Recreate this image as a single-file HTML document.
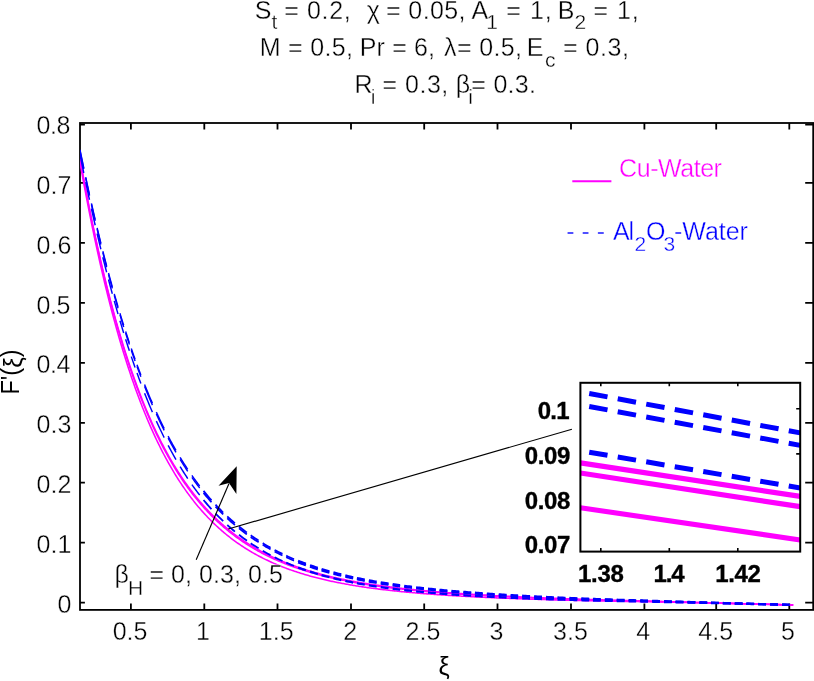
<!DOCTYPE html>
<html><head><meta charset="utf-8"><style>
html,body{margin:0;padding:0;background:#fff;width:814px;height:681px;overflow:hidden}
svg{display:block;will-change:transform}
</style></head><body>
<svg width="814" height="681" viewBox="0 0 814 681" font-family="Liberation Sans, sans-serif">
<rect width="814" height="681" fill="#fff"/>
<defs><clipPath id="cm"><rect x="80" y="123" width="733.2" height="486.9"/></clipPath><clipPath id="ci"><rect x="580.4" y="382.8" width="219.8" height="168.8"/></clipPath></defs>
<g stroke="#000" stroke-width="1.8" fill="none">
<rect x="80" y="123" width="733.2" height="486.9"/>
<path d="M130.9,609.9 v-6.4 M130.9,123 v6.6 M204.3,609.9 v-6.4 M204.3,123 v6.6 M277.5,609.9 v-6.4 M277.5,123 v6.6 M351.0,609.9 v-6.4 M351.0,123 v6.6 M424.2,609.9 v-6.4 M424.2,123 v6.6 M497.5,609.9 v-6.4 M497.5,123 v6.6 M571.0,609.9 v-6.4 M571.0,123 v6.6 M644.4,609.9 v-6.4 M644.4,123 v6.6 M716.2,609.9 v-6.4 M716.2,123 v6.6 M789.3,609.9 v-6.4 M789.3,123 v6.6 M80,602.6 h4.9 M813.2,602.6 h-8.0 M80,542.6 h4.9 M813.2,542.6 h-8.0 M80,482.7 h4.9 M813.2,482.7 h-8.0 M80,422.8 h4.9 M813.2,422.8 h-8.0 M80,362.8 h4.9 M813.2,362.8 h-8.0 M80,302.9 h4.9 M813.2,302.9 h-8.0 M80,242.9 h4.9 M813.2,242.9 h-8.0 M80,182.9 h4.9 M813.2,182.9 h-8.0 M80,124.6 h4.9 M813.2,124.6 h-8.0"/>
</g>
<g clip-path="url(#cm)" fill="none">
<path d="M79.08,153.04 L80.10,158.83 L81.12,164.54 L82.14,170.16 L83.16,175.72 L84.18,181.20 L85.20,186.61 L86.22,191.95 L87.24,197.22 L88.26,202.42 L89.28,207.56 L90.30,212.63 L91.32,217.63 L92.34,222.57 L93.36,227.45 L94.38,232.26 L95.40,237.02 L96.42,241.71 L97.44,246.33 L98.46,250.90 L99.48,255.42 L100.50,259.87 L101.52,264.26 L102.54,268.60 L103.56,272.88 L104.58,277.11 L105.60,281.28 L106.62,285.39 L107.64,289.45 L108.66,293.46 L109.68,297.42 L110.70,301.33 L111.72,305.18 L112.74,308.98 L113.76,312.74 L114.78,316.44 L115.80,320.10 L116.82,323.71 L117.84,327.27 L118.86,330.78 L119.89,334.25 L120.91,337.67 L121.93,341.05 L122.95,344.38 L123.97,347.67 L124.99,350.91 L126.01,354.12 L127.03,357.28 L128.05,360.39 L129.07,363.47 L130.09,366.51 L131.11,369.50 L132.13,372.46 L133.15,375.37 L134.17,378.25 L135.19,381.09 L136.21,383.89 L137.23,386.66 L138.25,389.38 L139.27,392.08 L140.29,394.73 L141.31,397.35 L142.33,399.94 L143.35,402.49 L144.37,405.00 L145.39,407.49 L146.41,409.94 L147.43,412.36 L148.45,414.74 L149.47,417.09 L150.49,419.42 L151.51,421.71 L152.53,423.97 L153.55,426.20 L154.57,428.40 L155.59,430.57 L156.61,432.71 L157.63,434.82 L158.65,436.91 L159.68,438.96 L160.70,440.99 L161.72,442.99 L162.74,444.97 L163.76,446.92 L164.78,448.84 L165.80,450.74 L166.82,452.61 L167.84,454.46 L168.86,456.28 L169.88,458.08 L170.90,459.85 L171.92,461.60 L172.94,463.32 L173.96,465.03 L174.98,466.71 L176.00,468.37 L177.02,470.00 L178.04,471.62 L179.06,473.21 L180.08,474.78 L181.10,476.33 L182.12,477.86 L183.14,479.37 L184.16,480.86 L185.18,482.32 L186.20,483.77 L187.22,485.20 L188.24,486.61 L189.26,488.01 L190.28,489.38 L191.30,490.74 L192.32,492.07 L193.34,493.39 L194.36,494.69 L195.38,495.98 L196.40,497.25 L197.42,498.50 L198.44,499.73 L199.46,500.95 L200.49,502.15 L201.51,503.33 L202.53,504.50 L203.55,505.66 L204.57,506.80 L205.59,507.92 L206.61,509.03 L207.63,510.12 L208.65,511.20 L209.67,512.27 L210.69,513.32 L211.71,514.36 L212.73,515.38 L213.75,516.39 L214.77,517.39 L215.79,518.37 L216.81,519.34 L217.83,520.30 L218.85,521.25 L219.87,522.18 L220.89,523.10 L221.91,524.01 L222.93,524.91 L223.95,525.79 L224.97,526.67 L225.99,527.53 L227.01,528.38 L228.03,529.22 L229.05,530.05 L230.07,530.87 L231.09,531.67 L232.11,532.47 L233.13,533.26 L234.15,534.03 L235.17,534.80 L236.19,535.56 L237.21,536.30 L238.23,537.04 L239.25,537.77 L240.28,538.49 L241.30,539.19 L242.32,539.89 L243.34,540.59 L244.36,541.27 L245.38,541.94 L246.40,542.60 L247.42,543.26 L248.44,543.91 L249.46,544.55 L250.48,545.18 L251.50,545.80 L252.52,546.42 L253.54,547.02 L254.56,547.62 L255.58,548.21 L256.60,548.80 L257.62,549.38 L258.64,549.94 L259.66,550.51 L260.68,551.06 L261.70,551.61 L262.72,552.15 L263.74,552.69 L264.76,553.21 L265.78,553.74 L266.80,554.25 L267.82,554.76 L268.84,555.26 L269.86,555.76 L270.88,556.24 L271.90,556.73 L272.92,557.21 L273.94,557.68 L274.96,558.14 L275.98,558.60 L277.00,559.06 L278.02,559.50 L279.04,559.95 L280.06,560.38 L281.09,560.82 L282.11,561.24 L283.13,561.66 L284.15,562.08 L285.17,562.49 L286.19,562.90 L287.21,563.30 L288.23,563.69 L289.25,564.09 L290.27,564.47 L291.29,564.85 L292.31,565.23 L293.33,565.60 L294.35,565.97 L295.37,566.34 L296.39,566.70 L297.41,567.05 L298.43,567.40 L299.45,567.75 L300.47,568.09 L301.49,568.43 L302.51,568.76 L303.53,569.09 L304.55,569.42 L305.57,569.74 L306.59,570.06 L307.61,570.38 L308.63,570.69 L309.65,571.00 L310.67,571.30 L311.69,571.60 L312.71,571.90 L313.73,572.19 L314.75,572.48 L315.77,572.77 L316.79,573.05 L317.81,573.33 L318.83,573.61 L319.85,573.88 L320.88,574.15 L321.90,574.42 L322.92,574.68 L323.94,574.94 L324.96,575.20 L325.98,575.45 L327.00,575.71 L328.02,575.96 L329.04,576.20 L330.06,576.45 L331.08,576.69 L332.10,576.93 L333.12,577.16 L334.14,577.39 L335.16,577.62 L336.18,577.85 L337.20,578.08 L338.22,578.30 L339.24,578.52 L340.26,578.74 L341.28,578.95 L342.30,579.16 L343.32,579.37 L344.34,579.58 L345.36,579.79 L346.38,579.99 L347.40,580.19 L348.42,580.39 L349.44,580.59 L350.46,580.78 L351.48,580.98 L352.50,581.17 L353.52,581.36 L354.54,581.54 L355.56,581.73 L356.58,581.91 L357.60,582.09 L358.62,582.27 L359.64,582.44 L360.66,582.62 L361.69,582.79 L362.71,582.96 L363.73,583.13 L364.75,583.30 L365.77,583.47 L366.79,583.63 L367.81,583.79 L368.83,583.95 L369.85,584.11 L370.87,584.27 L371.89,584.42 L372.91,584.58 L373.93,584.73 L374.95,584.88 L375.97,585.03 L376.99,585.18 L378.01,585.32 L379.03,585.47 L380.05,585.61 L381.07,585.75 L382.09,585.89 L383.11,586.03 L384.13,586.17 L385.15,586.31 L386.17,586.44 L387.19,586.57 L388.21,586.71 L389.23,586.84 L390.25,586.97 L391.27,587.10 L392.29,587.22 L393.31,587.35 L394.33,587.47 L395.35,587.60 L396.37,587.72 L397.39,587.84 L398.41,587.96 L399.43,588.08 L400.45,588.20 L401.48,588.31 L402.50,588.43 L403.52,588.54 L404.54,588.65 L405.56,588.77 L406.58,588.88 L407.60,588.99 L408.62,589.10 L409.64,589.20 L410.66,589.31 L411.68,589.42 L412.70,589.52 L413.72,589.63 L414.74,589.73 L415.76,589.83 L416.78,589.93 L417.80,590.03 L418.82,590.13 L419.84,590.23 L420.86,590.33 L421.88,590.42 L422.90,590.52 L423.92,590.61 L424.94,590.71 L425.96,590.80 L426.98,590.89 L428.00,590.99 L429.02,591.08 L430.04,591.17 L431.06,591.26 L432.08,591.35 L433.10,591.43 L434.12,591.52 L435.14,591.61 L436.16,591.69 L437.18,591.78 L438.20,591.86 L439.22,591.94 L440.24,592.03 L441.26,592.11 L442.29,592.19 L443.31,592.27 L444.33,592.35 L445.35,592.43 L446.37,592.51 L447.39,592.59 L448.41,592.66 L449.43,592.74 L450.45,592.82 L451.47,592.89 L452.49,592.97 L453.51,593.04 L454.53,593.12 L455.55,593.19 L456.57,593.26 L457.59,593.33 L458.61,593.40 L459.63,593.48 L460.65,593.55 L461.67,593.62 L462.69,593.68 L463.71,593.75 L464.73,593.82 L465.75,593.89 L466.77,593.96 L467.79,594.02 L468.81,594.09 L469.83,594.15 L470.85,594.22 L471.87,594.28 L472.89,594.35 L473.91,594.41 L474.93,594.48 L475.95,594.54 L476.97,594.60 L477.99,594.66 L479.01,594.72 L480.03,594.79 L481.05,594.85 L482.08,594.91 L483.10,594.97 L484.12,595.03 L485.14,595.08 L486.16,595.14 L487.18,595.20 L488.20,595.26 L489.22,595.32 L490.24,595.37 L491.26,595.43 L492.28,595.49 L493.30,595.54 L494.32,595.60 L495.34,595.65 L496.36,595.71 L497.38,595.76 L498.40,595.81 L499.42,595.87 L500.44,595.92 L501.46,595.97 L502.48,596.03 L503.50,596.08 L504.52,596.13 L505.54,596.18 L506.56,596.23 L507.58,596.28 L508.60,596.33 L509.62,596.38 L510.64,596.43 L511.66,596.48 L512.68,596.53 L513.70,596.58 L514.72,596.63 L515.74,596.68 L516.76,596.73 L517.78,596.77 L518.80,596.82 L519.82,596.87 L520.84,596.92 L521.86,596.96 L522.89,597.01 L523.91,597.05 L524.93,597.10 L525.95,597.14 L526.97,597.19 L527.99,597.23 L529.01,597.28 L530.03,597.32 L531.05,597.37 L532.07,597.41 L533.09,597.45 L534.11,597.50 L535.13,597.54 L536.15,597.58 L537.17,597.63 L538.19,597.67 L539.21,597.71 L540.23,597.75 L541.25,597.79 L542.27,597.84 L543.29,597.88 L544.31,597.92 L545.33,597.96 L546.35,598.00 L547.37,598.04 L548.39,598.08 L549.41,598.12 L550.43,598.16 L551.45,598.20 L552.47,598.23 L553.49,598.27 L554.51,598.31 L555.53,598.35 L556.55,598.39 L557.57,598.43 L558.59,598.46 L559.61,598.50 L560.63,598.54 L561.65,598.57 L562.67,598.61 L563.70,598.65 L564.72,598.68 L565.74,598.72 L566.76,598.76 L567.78,598.79 L568.80,598.83 L569.82,598.86 L570.84,598.90 L571.86,598.93 L572.88,598.97 L573.90,599.00 L574.92,599.04 L575.94,599.07 L576.96,599.10 L577.98,599.14 L579.00,599.17 L580.02,599.20 L581.04,599.24 L582.06,599.27 L583.08,599.30 L584.10,599.34 L585.12,599.37 L586.14,599.40 L587.16,599.43 L588.18,599.46 L589.20,599.50 L590.22,599.53 L591.24,599.56 L592.26,599.59 L593.28,599.62 L594.30,599.65 L595.32,599.68 L596.34,599.71 L597.36,599.74 L598.38,599.77 L599.40,599.80 L600.42,599.83 L601.44,599.86 L602.46,599.89 L603.49,599.92 L604.51,599.95 L605.53,599.97 L606.55,600.00 L607.57,600.03 L608.59,600.06 L609.61,600.09 L610.63,600.11 L611.65,600.14 L612.67,600.17 L613.69,600.20 L614.71,600.22 L615.73,600.25 L616.75,600.28 L617.77,600.30 L618.79,600.33 L619.81,600.36 L620.83,600.38 L621.85,600.41 L622.87,600.43 L623.89,600.46 L624.91,600.48 L625.93,600.51 L626.95,600.53 L627.97,600.56 L628.99,600.58 L630.01,600.61 L631.03,600.63 L632.05,600.66 L633.07,600.69 L634.09,600.71 L635.11,600.74 L636.13,600.77 L637.15,600.79 L638.17,600.82 L639.19,600.85 L640.21,600.88 L641.23,600.90 L642.25,600.93 L643.27,600.96 L644.30,600.99 L645.32,601.01 L646.34,601.04 L647.36,601.07 L648.38,601.10 L649.40,601.13 L650.42,601.15 L651.44,601.18 L652.46,601.21 L653.48,601.24 L654.50,601.27 L655.52,601.29 L656.54,601.32 L657.56,601.35 L658.58,601.38 L659.60,601.41 L660.62,601.43 L661.64,601.46 L662.66,601.49 L663.68,601.52 L664.70,601.55 L665.72,601.58 L666.74,601.60 L667.76,601.63 L668.78,601.66 L669.80,601.69 L670.82,601.72 L671.84,601.74 L672.86,601.77 L673.88,601.80 L674.90,601.83 L675.92,601.86 L676.94,601.88 L677.96,601.91 L678.98,601.94 L680.00,601.97 L681.02,602.00 L682.04,602.02 L683.06,602.05 L684.09,602.08 L685.11,602.11 L686.13,602.14 L687.15,602.16 L688.17,602.19 L689.19,602.22 L690.21,602.25 L691.23,602.27 L692.25,602.30 L693.27,602.33 L694.29,602.36 L695.31,602.38 L696.33,602.41 L697.35,602.44 L698.37,602.47 L699.39,602.50 L700.41,602.52 L701.43,602.55 L702.45,602.58 L703.47,602.60 L704.49,602.63 L705.51,602.66 L706.53,602.69 L707.55,602.71 L708.57,602.74 L709.59,602.77 L710.61,602.80 L711.63,602.82 L712.65,602.85 L713.67,602.88 L714.69,602.90 L715.71,602.93 L716.73,602.96 L717.75,602.99 L718.77,603.01 L719.79,603.04 L720.81,603.07 L721.83,603.09 L722.85,603.12 L723.87,603.15 L724.90,603.17 L725.92,603.20 L726.94,603.23 L727.96,603.25 L728.98,603.28 L730.00,603.31 L731.02,603.33 L732.04,603.36 L733.06,603.39 L734.08,603.41 L735.10,603.44 L736.12,603.47 L737.14,603.49 L738.16,603.52 L739.18,603.55 L740.20,603.57 L741.22,603.60 L742.24,603.63 L743.26,603.65 L744.28,603.68 L745.30,603.71 L746.32,603.73 L747.34,603.76 L748.36,603.79 L749.38,603.81 L750.40,603.84 L751.42,603.87 L752.44,603.89 L753.46,603.92 L754.48,603.95 L755.50,603.97 L756.52,604.00 L757.54,604.02 L758.56,604.05 L759.58,604.08 L760.60,604.10 L761.62,604.13 L762.64,604.16 L763.66,604.18 L764.69,604.21 L765.71,604.24 L766.73,604.26 L767.75,604.29 L768.77,604.32 L769.79,604.34 L770.81,604.37 L771.83,604.39 L772.85,604.42 L773.87,604.45 L774.89,604.47 L775.91,604.50 L776.93,604.53 L777.95,604.55 L778.97,604.58 L779.99,604.61 L781.01,604.63 L782.03,604.66 L783.05,604.69 L784.07,604.71 L785.09,604.74 L786.11,604.77 L787.13,604.79 L788.15,604.82 L789.17,604.85 L790.19,604.87 L791.21,604.90 L792.23,604.93 L793.25,604.95" stroke="#f0f" stroke-width="1.55"/>
<path d="M79.08,153.98 L80.10,159.75 L81.12,165.46 L82.14,171.08 L83.16,176.64 L84.18,182.13 L85.20,187.54 L86.22,192.89 L87.24,198.17 L88.26,203.38 L89.28,208.53 L90.30,213.61 L91.32,218.63 L92.34,223.58 L93.36,228.47 L94.38,233.29 L95.40,238.06 L96.42,242.76 L97.44,247.40 L98.46,251.99 L99.48,256.51 L100.50,260.98 L101.52,265.38 L102.54,269.73 L103.56,274.03 L104.58,278.27 L105.60,282.45 L106.62,286.58 L107.64,290.65 L108.66,294.68 L109.68,298.65 L110.70,302.56 L111.72,306.43 L112.74,310.25 L113.76,314.01 L114.78,317.73 L115.80,321.40 L116.82,325.02 L117.84,328.59 L118.86,332.11 L119.89,335.59 L120.91,339.03 L121.93,342.41 L122.95,345.76 L123.97,349.05 L124.99,352.31 L126.01,355.52 L127.03,358.69 L128.05,361.82 L129.07,364.90 L130.09,367.95 L131.11,370.95 L132.13,373.91 L133.15,376.84 L134.17,379.72 L135.19,382.57 L136.21,385.38 L137.23,388.15 L138.25,390.89 L139.27,393.58 L140.29,396.25 L141.31,398.87 L142.33,401.46 L143.35,404.02 L144.37,406.54 L145.39,409.03 L146.41,411.49 L147.43,413.91 L148.45,416.30 L149.47,418.66 L150.49,420.98 L151.51,423.28 L152.53,425.54 L153.55,427.78 L154.57,429.98 L155.59,432.15 L156.61,434.30 L157.63,436.41 L158.65,438.50 L159.68,440.56 L160.70,442.59 L161.72,444.60 L162.74,446.57 L163.76,448.52 L164.78,450.45 L165.80,452.35 L166.82,454.22 L167.84,456.07 L168.86,457.89 L169.88,459.69 L170.90,461.46 L171.92,463.21 L172.94,464.94 L173.96,466.64 L174.98,468.33 L176.00,469.98 L177.02,471.62 L178.04,473.23 L179.06,474.82 L180.08,476.39 L181.10,477.94 L182.12,479.47 L183.14,480.98 L184.16,482.47 L185.18,483.94 L186.20,485.38 L187.22,486.81 L188.24,488.22 L189.26,489.61 L190.28,490.98 L191.30,492.34 L192.32,493.67 L193.34,494.99 L194.36,496.29 L195.38,497.57 L196.40,498.84 L197.42,500.09 L198.44,501.32 L199.46,502.53 L200.49,503.73 L201.51,504.91 L202.53,506.08 L203.55,507.23 L204.57,508.37 L205.59,509.49 L206.61,510.59 L207.63,511.68 L208.65,512.76 L209.67,513.82 L210.69,514.87 L211.71,515.91 L212.73,516.93 L213.75,517.93 L214.77,518.93 L215.79,519.91 L216.81,520.87 L217.83,521.83 L218.85,522.77 L219.87,523.70 L220.89,524.62 L221.91,525.52 L222.93,526.42 L223.95,527.30 L224.97,528.17 L225.99,529.02 L227.01,529.87 L228.03,530.71 L229.05,531.53 L230.07,532.35 L231.09,533.15 L232.11,533.94 L233.13,534.72 L234.15,535.50 L235.17,536.26 L236.19,537.01 L237.21,537.75 L238.23,538.49 L239.25,539.21 L240.28,539.92 L241.30,540.63 L242.32,541.32 L243.34,542.01 L244.36,542.68 L245.38,543.35 L246.40,544.01 L247.42,544.66 L248.44,545.31 L249.46,545.94 L250.48,546.57 L251.50,547.19 L252.52,547.80 L253.54,548.40 L254.56,548.99 L255.58,549.58 L256.60,550.16 L257.62,550.73 L258.64,551.30 L259.66,551.85 L260.68,552.41 L261.70,552.95 L262.72,553.49 L263.74,554.02 L264.76,554.54 L265.78,555.05 L266.80,555.56 L267.82,556.07 L268.84,556.57 L269.86,557.06 L270.88,557.54 L271.90,558.02 L272.92,558.49 L273.94,558.96 L274.96,559.42 L275.98,559.87 L277.00,560.32 L278.02,560.77 L279.04,561.20 L280.06,561.64 L281.09,562.06 L282.11,562.49 L283.13,562.90 L284.15,563.31 L285.17,563.72 L286.19,564.12 L287.21,564.52 L288.23,564.91 L289.25,565.30 L290.27,565.68 L291.29,566.06 L292.31,566.43 L293.33,566.80 L294.35,567.16 L295.37,567.52 L296.39,567.88 L297.41,568.23 L298.43,568.57 L299.45,568.91 L300.47,569.25 L301.49,569.59 L302.51,569.92 L303.53,570.24 L304.55,570.56 L305.57,570.88 L306.59,571.20 L307.61,571.51 L308.63,571.81 L309.65,572.12 L310.67,572.42 L311.69,572.71 L312.71,573.00 L313.73,573.29 L314.75,573.58 L315.77,573.86 L316.79,574.14 L317.81,574.42 L318.83,574.69 L319.85,574.96 L320.88,575.22 L321.90,575.49 L322.92,575.75 L323.94,576.00 L324.96,576.26 L325.98,576.51 L327.00,576.76 L328.02,577.00 L329.04,577.24 L330.06,577.48 L331.08,577.72 L332.10,577.95 L333.12,578.18 L334.14,578.41 L335.16,578.64 L336.18,578.86 L337.20,579.08 L338.22,579.30 L339.24,579.52 L340.26,579.73 L341.28,579.94 L342.30,580.15 L343.32,580.36 L344.34,580.56 L345.36,580.76 L346.38,580.96 L347.40,581.16 L348.42,581.36 L349.44,581.55 L350.46,581.74 L351.48,581.93 L352.50,582.12 L353.52,582.30 L354.54,582.48 L355.56,582.66 L356.58,582.84 L357.60,583.02 L358.62,583.19 L359.64,583.37 L360.66,583.54 L361.69,583.71 L362.71,583.88 L363.73,584.04 L364.75,584.20 L365.77,584.37 L366.79,584.53 L367.81,584.69 L368.83,584.84 L369.85,585.00 L370.87,585.15 L371.89,585.30 L372.91,585.45 L373.93,585.60 L374.95,585.75 L375.97,585.90 L376.99,586.04 L378.01,586.18 L379.03,586.33 L380.05,586.47 L381.07,586.60 L382.09,586.74 L383.11,586.88 L384.13,587.01 L385.15,587.14 L386.17,587.28 L387.19,587.41 L388.21,587.53 L389.23,587.66 L390.25,587.79 L391.27,587.91 L392.29,588.04 L393.31,588.16 L394.33,588.28 L395.35,588.40 L396.37,588.52 L397.39,588.64 L398.41,588.75 L399.43,588.87 L400.45,588.98 L401.48,589.10 L402.50,589.21 L403.52,589.32 L404.54,589.43 L405.56,589.54 L406.58,589.65 L407.60,589.75 L408.62,589.86 L409.64,589.97 L410.66,590.07 L411.68,590.17 L412.70,590.27 L413.72,590.38 L414.74,590.48 L415.76,590.57 L416.78,590.67 L417.80,590.77 L418.82,590.87 L419.84,590.96 L420.86,591.06 L421.88,591.15 L422.90,591.24 L423.92,591.34 L424.94,591.43 L425.96,591.52 L426.98,591.61 L428.00,591.70 L429.02,591.78 L430.04,591.87 L431.06,591.96 L432.08,592.04 L433.10,592.13 L434.12,592.21 L435.14,592.30 L436.16,592.38 L437.18,592.46 L438.20,592.54 L439.22,592.62 L440.24,592.70 L441.26,592.78 L442.29,592.86 L443.31,592.94 L444.33,593.01 L445.35,593.09 L446.37,593.17 L447.39,593.24 L448.41,593.32 L449.43,593.39 L450.45,593.46 L451.47,593.54 L452.49,593.61 L453.51,593.68 L454.53,593.75 L455.55,593.82 L456.57,593.89 L457.59,593.96 L458.61,594.03 L459.63,594.10 L460.65,594.17 L461.67,594.23 L462.69,594.30 L463.71,594.37 L464.73,594.43 L465.75,594.50 L466.77,594.56 L467.79,594.63 L468.81,594.69 L469.83,594.75 L470.85,594.82 L471.87,594.88 L472.89,594.94 L473.91,595.00 L474.93,595.06 L475.95,595.12 L476.97,595.18 L477.99,595.24 L479.01,595.30 L480.03,595.36 L481.05,595.42 L482.08,595.47 L483.10,595.53 L484.12,595.59 L485.14,595.64 L486.16,595.70 L487.18,595.76 L488.20,595.81 L489.22,595.87 L490.24,595.92 L491.26,595.97 L492.28,596.03 L493.30,596.08 L494.32,596.13 L495.34,596.19 L496.36,596.24 L497.38,596.29 L498.40,596.34 L499.42,596.39 L500.44,596.44 L501.46,596.49 L502.48,596.54 L503.50,596.59 L504.52,596.64 L505.54,596.69 L506.56,596.74 L507.58,596.79 L508.60,596.84 L509.62,596.88 L510.64,596.93 L511.66,596.98 L512.68,597.03 L513.70,597.07 L514.72,597.12 L515.74,597.16 L516.76,597.21 L517.78,597.25 L518.80,597.30 L519.82,597.34 L520.84,597.39 L521.86,597.43 L522.89,597.48 L523.91,597.52 L524.93,597.56 L525.95,597.61 L526.97,597.65 L527.99,597.69 L529.01,597.73 L530.03,597.77 L531.05,597.82 L532.07,597.86 L533.09,597.90 L534.11,597.94 L535.13,597.98 L536.15,598.02 L537.17,598.06 L538.19,598.10 L539.21,598.14 L540.23,598.18 L541.25,598.22 L542.27,598.26 L543.29,598.30 L544.31,598.33 L545.33,598.37 L546.35,598.41 L547.37,598.45 L548.39,598.48 L549.41,598.52 L550.43,598.56 L551.45,598.60 L552.47,598.63 L553.49,598.67 L554.51,598.70 L555.53,598.74 L556.55,598.78 L557.57,598.81 L558.59,598.85 L559.61,598.88 L560.63,598.92 L561.65,598.95 L562.67,598.99 L563.70,599.02 L564.72,599.05 L565.74,599.09 L566.76,599.12 L567.78,599.15 L568.80,599.19 L569.82,599.22 L570.84,599.25 L571.86,599.28 L572.88,599.32 L573.90,599.35 L574.92,599.38 L575.94,599.41 L576.96,599.44 L577.98,599.48 L579.00,599.51 L580.02,599.54 L581.04,599.57 L582.06,599.60 L583.08,599.63 L584.10,599.66 L585.12,599.69 L586.14,599.72 L587.16,599.75 L588.18,599.78 L589.20,599.81 L590.22,599.84 L591.24,599.86 L592.26,599.89 L593.28,599.92 L594.30,599.95 L595.32,599.98 L596.34,600.01 L597.36,600.03 L598.38,600.06 L599.40,600.09 L600.42,600.12 L601.44,600.14 L602.46,600.17 L603.49,600.20 L604.51,600.22 L605.53,600.25 L606.55,600.28 L607.57,600.30 L608.59,600.33 L609.61,600.35 L610.63,600.38 L611.65,600.40 L612.67,600.43 L613.69,600.45 L614.71,600.48 L615.73,600.50 L616.75,600.53 L617.77,600.55 L618.79,600.57 L619.81,600.60 L620.83,600.62 L621.85,600.65 L622.87,600.67 L623.89,600.69 L624.91,600.72 L625.93,600.74 L626.95,600.76 L627.97,600.78 L628.99,600.81 L630.01,600.83 L631.03,600.85 L632.05,600.88 L633.07,600.90 L634.09,600.93 L635.11,600.95 L636.13,600.98 L637.15,601.00 L638.17,601.03 L639.19,601.05 L640.21,601.08 L641.23,601.10 L642.25,601.13 L643.27,601.15 L644.30,601.18 L645.32,601.20 L646.34,601.23 L647.36,601.26 L648.38,601.28 L649.40,601.31 L650.42,601.33 L651.44,601.36 L652.46,601.39 L653.48,601.41 L654.50,601.44 L655.52,601.46 L656.54,601.49 L657.56,601.52 L658.58,601.54 L659.60,601.57 L660.62,601.59 L661.64,601.62 L662.66,601.65 L663.68,601.67 L664.70,601.70 L665.72,601.73 L666.74,601.75 L667.76,601.78 L668.78,601.81 L669.80,601.83 L670.82,601.86 L671.84,601.88 L672.86,601.91 L673.88,601.94 L674.90,601.96 L675.92,601.99 L676.94,602.02 L677.96,602.04 L678.98,602.07 L680.00,602.09 L681.02,602.12 L682.04,602.15 L683.06,602.17 L684.09,602.20 L685.11,602.23 L686.13,602.25 L687.15,602.28 L688.17,602.30 L689.19,602.33 L690.21,602.36 L691.23,602.38 L692.25,602.41 L693.27,602.43 L694.29,602.46 L695.31,602.49 L696.33,602.51 L697.35,602.54 L698.37,602.56 L699.39,602.59 L700.41,602.62 L701.43,602.64 L702.45,602.67 L703.47,602.69 L704.49,602.72 L705.51,602.75 L706.53,602.77 L707.55,602.80 L708.57,602.82 L709.59,602.85 L710.61,602.88 L711.63,602.90 L712.65,602.93 L713.67,602.95 L714.69,602.98 L715.71,603.01 L716.73,603.03 L717.75,603.06 L718.77,603.08 L719.79,603.11 L720.81,603.13 L721.83,603.16 L722.85,603.19 L723.87,603.21 L724.90,603.24 L725.92,603.26 L726.94,603.29 L727.96,603.31 L728.98,603.34 L730.00,603.37 L731.02,603.39 L732.04,603.42 L733.06,603.44 L734.08,603.47 L735.10,603.49 L736.12,603.52 L737.14,603.55 L738.16,603.57 L739.18,603.60 L740.20,603.62 L741.22,603.65 L742.24,603.67 L743.26,603.70 L744.28,603.72 L745.30,603.75 L746.32,603.78 L747.34,603.80 L748.36,603.83 L749.38,603.85 L750.40,603.88 L751.42,603.90 L752.44,603.93 L753.46,603.96 L754.48,603.98 L755.50,604.01 L756.52,604.03 L757.54,604.06 L758.56,604.08 L759.58,604.11 L760.60,604.14 L761.62,604.16 L762.64,604.19 L763.66,604.21 L764.69,604.24 L765.71,604.26 L766.73,604.29 L767.75,604.32 L768.77,604.34 L769.79,604.37 L770.81,604.39 L771.83,604.42 L772.85,604.45 L773.87,604.47 L774.89,604.50 L775.91,604.52 L776.93,604.55 L777.95,604.57 L778.97,604.60 L779.99,604.63 L781.01,604.65 L782.03,604.68 L783.05,604.71 L784.07,604.73 L785.09,604.76 L786.11,604.78 L787.13,604.81 L788.15,604.84 L789.17,604.86 L790.19,604.89 L791.21,604.92 L792.23,604.94 L793.25,604.97" stroke="#f0f" stroke-width="1.55"/>
<path d="M79.08,157.37 L80.10,163.11 L81.12,168.80 L82.14,174.43 L83.16,180.00 L84.18,185.50 L85.20,190.94 L86.22,196.32 L87.24,201.63 L88.26,206.88 L89.28,212.06 L90.30,217.18 L91.32,222.24 L92.34,227.23 L93.36,232.16 L94.38,237.03 L95.40,241.84 L96.42,246.59 L97.44,251.28 L98.46,255.91 L99.48,260.48 L100.50,264.99 L101.52,269.45 L102.54,273.85 L103.56,278.19 L104.58,282.47 L105.60,286.70 L106.62,290.88 L107.64,295.00 L108.66,299.07 L109.68,303.08 L110.70,307.04 L111.72,310.96 L112.74,314.81 L113.76,318.62 L114.78,322.38 L115.80,326.09 L116.82,329.75 L117.84,333.36 L118.86,336.93 L119.89,340.44 L120.91,343.91 L121.93,347.34 L122.95,350.72 L123.97,354.05 L124.99,357.34 L126.01,360.58 L127.03,363.79 L128.05,366.94 L129.07,370.06 L130.09,373.13 L131.11,376.17 L132.13,379.16 L133.15,382.11 L134.17,385.02 L135.19,387.90 L136.21,390.73 L137.23,393.53 L138.25,396.29 L139.27,399.01 L140.29,401.69 L141.31,404.34 L142.33,406.95 L143.35,409.52 L144.37,412.07 L145.39,414.57 L146.41,417.04 L147.43,419.48 L148.45,421.89 L149.47,424.26 L150.49,426.60 L151.51,428.91 L152.53,431.18 L153.55,433.43 L154.57,435.64 L155.59,437.83 L156.61,439.98 L157.63,442.11 L158.65,444.20 L159.68,446.27 L160.70,448.31 L161.72,450.32 L162.74,452.30 L163.76,454.26 L164.78,456.18 L165.80,458.09 L166.82,459.96 L167.84,461.81 L168.86,463.64 L169.88,465.44 L170.90,467.21 L171.92,468.96 L172.94,470.69 L173.96,472.39 L174.98,474.07 L176.00,475.73 L177.02,477.36 L178.04,478.97 L179.06,480.56 L180.08,482.13 L181.10,483.67 L182.12,485.20 L183.14,486.70 L184.16,488.18 L185.18,489.64 L186.20,491.08 L187.22,492.51 L188.24,493.91 L189.26,495.29 L190.28,496.65 L191.30,498.00 L192.32,499.33 L193.34,500.63 L194.36,501.92 L195.38,503.20 L196.40,504.45 L197.42,505.69 L198.44,506.91 L199.46,508.11 L200.49,509.30 L201.51,510.47 L202.53,511.63 L203.55,512.77 L204.57,513.89 L205.59,515.00 L206.61,516.09 L207.63,517.17 L208.65,518.23 L209.67,519.28 L210.69,520.32 L211.71,521.34 L212.73,522.34 L213.75,523.34 L214.77,524.32 L215.79,525.28 L216.81,526.23 L217.83,527.17 L218.85,528.10 L219.87,529.01 L220.89,529.91 L221.91,530.80 L222.93,531.68 L223.95,532.55 L224.97,533.40 L225.99,534.24 L227.01,535.07 L228.03,535.89 L229.05,536.70 L230.07,537.50 L231.09,538.28 L232.11,539.06 L233.13,539.82 L234.15,540.58 L235.17,541.32 L236.19,542.06 L237.21,542.78 L238.23,543.50 L239.25,544.20 L240.28,544.90 L241.30,545.59 L242.32,546.26 L243.34,546.93 L244.36,547.59 L245.38,548.24 L246.40,548.88 L247.42,549.52 L248.44,550.14 L249.46,550.76 L250.48,551.37 L251.50,551.97 L252.52,552.56 L253.54,553.14 L254.56,553.72 L255.58,554.29 L256.60,554.85 L257.62,555.40 L258.64,555.95 L259.66,556.49 L260.68,557.02 L261.70,557.55 L262.72,558.07 L263.74,558.58 L264.76,559.08 L265.78,559.58 L266.80,560.07 L267.82,560.56 L268.84,561.04 L269.86,561.51 L270.88,561.97 L271.90,562.43 L272.92,562.89 L273.94,563.34 L274.96,563.78 L275.98,564.22 L277.00,564.65 L278.02,565.07 L279.04,565.49 L280.06,565.91 L281.09,566.32 L282.11,566.72 L283.13,567.12 L284.15,567.51 L285.17,567.90 L286.19,568.29 L287.21,568.66 L288.23,569.04 L289.25,569.41 L290.27,569.77 L291.29,570.13 L292.31,570.49 L293.33,570.84 L294.35,571.18 L295.37,571.53 L296.39,571.86 L297.41,572.20 L298.43,572.53 L299.45,572.85 L300.47,573.17 L301.49,573.49 L302.51,573.80 L303.53,574.11 L304.55,574.41 L305.57,574.72 L306.59,575.01 L307.61,575.31 L308.63,575.60 L309.65,575.88 L310.67,576.17 L311.69,576.45 L312.71,576.72 L313.73,577.00 L314.75,577.26 L315.77,577.53 L316.79,577.79 L317.81,578.05 L318.83,578.31 L319.85,578.56 L320.88,578.81 L321.90,579.06 L322.92,579.30 L323.94,579.54 L324.96,579.78 L325.98,580.02 L327.00,580.25 L328.02,580.48 L329.04,580.71 L330.06,580.93 L331.08,581.15 L332.10,581.37 L333.12,581.59 L334.14,581.80 L335.16,582.01 L336.18,582.22 L337.20,582.43 L338.22,582.63 L339.24,582.83 L340.26,583.03 L341.28,583.23 L342.30,583.42 L343.32,583.61 L344.34,583.80 L345.36,583.99 L346.38,584.17 L347.40,584.36 L348.42,584.54 L349.44,584.72 L350.46,584.89 L351.48,585.07 L352.50,585.24 L353.52,585.41 L354.54,585.58 L355.56,585.75 L356.58,585.91 L357.60,586.08 L358.62,586.24 L359.64,586.40 L360.66,586.55 L361.69,586.71 L362.71,586.86 L363.73,587.02 L364.75,587.17 L365.77,587.32 L366.79,587.46 L367.81,587.61 L368.83,587.75 L369.85,587.90 L370.87,588.04 L371.89,588.18 L372.91,588.31 L373.93,588.45 L374.95,588.58 L375.97,588.72 L376.99,588.85 L378.01,588.98 L379.03,589.11 L380.05,589.24 L381.07,589.36 L382.09,589.49 L383.11,589.61 L384.13,589.73 L385.15,589.85 L386.17,589.97 L387.19,590.09 L388.21,590.21 L389.23,590.32 L390.25,590.44 L391.27,590.55 L392.29,590.66 L393.31,590.77 L394.33,590.88 L395.35,590.99 L396.37,591.10 L397.39,591.20 L398.41,591.31 L399.43,591.41 L400.45,591.52 L401.48,591.62 L402.50,591.72 L403.52,591.82 L404.54,591.92 L405.56,592.02 L406.58,592.11 L407.60,592.21 L408.62,592.30 L409.64,592.40 L410.66,592.49 L411.68,592.58 L412.70,592.67 L413.72,592.76 L414.74,592.85 L415.76,592.94 L416.78,593.03 L417.80,593.12 L418.82,593.20 L419.84,593.29 L420.86,593.37 L421.88,593.45 L422.90,593.54 L423.92,593.62 L424.94,593.70 L425.96,593.78 L426.98,593.86 L428.00,593.94 L429.02,594.01 L430.04,594.09 L431.06,594.17 L432.08,594.24 L433.10,594.32 L434.12,594.39 L435.14,594.47 L436.16,594.54 L437.18,594.61 L438.20,594.68 L439.22,594.75 L440.24,594.82 L441.26,594.89 L442.29,594.96 L443.31,595.03 L444.33,595.10 L445.35,595.16 L446.37,595.23 L447.39,595.29 L448.41,595.36 L449.43,595.42 L450.45,595.49 L451.47,595.55 L452.49,595.61 L453.51,595.68 L454.53,595.74 L455.55,595.80 L456.57,595.86 L457.59,595.92 L458.61,595.98 L459.63,596.04 L460.65,596.10 L461.67,596.15 L462.69,596.21 L463.71,596.27 L464.73,596.32 L465.75,596.38 L466.77,596.44 L467.79,596.49 L468.81,596.55 L469.83,596.60 L470.85,596.65 L471.87,596.71 L472.89,596.76 L473.91,596.81 L474.93,596.86 L475.95,596.91 L476.97,596.97 L477.99,597.02 L479.01,597.07 L480.03,597.12 L481.05,597.16 L482.08,597.21 L483.10,597.26 L484.12,597.31 L485.14,597.36 L486.16,597.40 L487.18,597.45 L488.20,597.50 L489.22,597.54 L490.24,597.59 L491.26,597.64 L492.28,597.68 L493.30,597.72 L494.32,597.77 L495.34,597.81 L496.36,597.86 L497.38,597.90 L498.40,597.94 L499.42,597.98 L500.44,598.03 L501.46,598.07 L502.48,598.11 L503.50,598.15 L504.52,598.19 L505.54,598.23 L506.56,598.27 L507.58,598.31 L508.60,598.35 L509.62,598.39 L510.64,598.43 L511.66,598.47 L512.68,598.51 L513.70,598.55 L514.72,598.58 L515.74,598.62 L516.76,598.66 L517.78,598.70 L518.80,598.73 L519.82,598.77 L520.84,598.81 L521.86,598.84 L522.89,598.88 L523.91,598.91 L524.93,598.95 L525.95,598.98 L526.97,599.02 L527.99,599.05 L529.01,599.08 L530.03,599.12 L531.05,599.15 L532.07,599.19 L533.09,599.22 L534.11,599.25 L535.13,599.28 L536.15,599.32 L537.17,599.35 L538.19,599.38 L539.21,599.41 L540.23,599.44 L541.25,599.47 L542.27,599.50 L543.29,599.54 L544.31,599.57 L545.33,599.60 L546.35,599.63 L547.37,599.66 L548.39,599.68 L549.41,599.71 L550.43,599.74 L551.45,599.77 L552.47,599.80 L553.49,599.83 L554.51,599.86 L555.53,599.89 L556.55,599.91 L557.57,599.94 L558.59,599.97 L559.61,600.00 L560.63,600.02 L561.65,600.05 L562.67,600.08 L563.70,600.10 L564.72,600.13 L565.74,600.15 L566.76,600.18 L567.78,600.21 L568.80,600.23 L569.82,600.26 L570.84,600.28 L571.86,600.31 L572.88,600.33 L573.90,600.36 L574.92,600.38 L575.94,600.40 L576.96,600.43 L577.98,600.45 L579.00,600.48 L580.02,600.50 L581.04,600.52 L582.06,600.55 L583.08,600.57 L584.10,600.59 L585.12,600.61 L586.14,600.64 L587.16,600.66 L588.18,600.68 L589.20,600.70 L590.22,600.72 L591.24,600.75 L592.26,600.77 L593.28,600.79 L594.30,600.81 L595.32,600.83 L596.34,600.85 L597.36,600.87 L598.38,600.89 L599.40,600.91 L600.42,600.93 L601.44,600.95 L602.46,600.97 L603.49,600.99 L604.51,601.01 L605.53,601.03 L606.55,601.05 L607.57,601.07 L608.59,601.09 L609.61,601.11 L610.63,601.12 L611.65,601.14 L612.67,601.16 L613.69,601.18 L614.71,601.20 L615.73,601.21 L616.75,601.23 L617.77,601.25 L618.79,601.27 L619.81,601.28 L620.83,601.30 L621.85,601.32 L622.87,601.33 L623.89,601.35 L624.91,601.37 L625.93,601.38 L626.95,601.40 L627.97,601.42 L628.99,601.43 L630.01,601.45 L631.03,601.47 L632.05,601.48 L633.07,601.50 L634.09,601.52 L635.11,601.54 L636.13,601.56 L637.15,601.58 L638.17,601.59 L639.19,601.61 L640.21,601.63 L641.23,601.65 L642.25,601.67 L643.27,601.69 L644.30,601.71 L645.32,601.73 L646.34,601.75 L647.36,601.77 L648.38,601.79 L649.40,601.81 L650.42,601.83 L651.44,601.85 L652.46,601.87 L653.48,601.89 L654.50,601.91 L655.52,601.93 L656.54,601.95 L657.56,601.97 L658.58,601.99 L659.60,602.01 L660.62,602.03 L661.64,602.06 L662.66,602.08 L663.68,602.10 L664.70,602.12 L665.72,602.14 L666.74,602.16 L667.76,602.18 L668.78,602.20 L669.80,602.22 L670.82,602.24 L671.84,602.26 L672.86,602.29 L673.88,602.31 L674.90,602.33 L675.92,602.35 L676.94,602.37 L677.96,602.39 L678.98,602.41 L680.00,602.44 L681.02,602.46 L682.04,602.48 L683.06,602.50 L684.09,602.52 L685.11,602.54 L686.13,602.56 L687.15,602.59 L688.17,602.61 L689.19,602.63 L690.21,602.65 L691.23,602.67 L692.25,602.69 L693.27,602.72 L694.29,602.74 L695.31,602.76 L696.33,602.78 L697.35,602.80 L698.37,602.83 L699.39,602.85 L700.41,602.87 L701.43,602.89 L702.45,602.91 L703.47,602.94 L704.49,602.96 L705.51,602.98 L706.53,603.00 L707.55,603.02 L708.57,603.05 L709.59,603.07 L710.61,603.09 L711.63,603.11 L712.65,603.13 L713.67,603.16 L714.69,603.18 L715.71,603.20 L716.73,603.22 L717.75,603.25 L718.77,603.27 L719.79,603.29 L720.81,603.31 L721.83,603.34 L722.85,603.36 L723.87,603.38 L724.90,603.40 L725.92,603.43 L726.94,603.45 L727.96,603.47 L728.98,603.49 L730.00,603.52 L731.02,603.54 L732.04,603.56 L733.06,603.59 L734.08,603.61 L735.10,603.63 L736.12,603.65 L737.14,603.68 L738.16,603.70 L739.18,603.72 L740.20,603.75 L741.22,603.77 L742.24,603.79 L743.26,603.82 L744.28,603.84 L745.30,603.86 L746.32,603.89 L747.34,603.91 L748.36,603.93 L749.38,603.96 L750.40,603.98 L751.42,604.00 L752.44,604.03 L753.46,604.05 L754.48,604.07 L755.50,604.10 L756.52,604.12 L757.54,604.14 L758.56,604.17 L759.58,604.19 L760.60,604.22 L761.62,604.24 L762.64,604.26 L763.66,604.29 L764.69,604.31 L765.71,604.34 L766.73,604.36 L767.75,604.38 L768.77,604.41 L769.79,604.43 L770.81,604.46 L771.83,604.48 L772.85,604.51 L773.87,604.53 L774.89,604.55 L775.91,604.58 L776.93,604.60 L777.95,604.63 L778.97,604.65 L779.99,604.68 L781.01,604.70 L782.03,604.73 L783.05,604.75 L784.07,604.78 L785.09,604.80 L786.11,604.83 L787.13,604.85 L788.15,604.88 L789.17,604.90 L790.19,604.93 L791.21,604.95 L792.23,604.98 L793.25,605.00" stroke="#f0f" stroke-width="1.55"/>
<path d="M80.04,149.85 L80.34,151.34 L80.64,152.82 L80.94,154.30 L81.24,155.80 L81.56,157.36 L81.88,158.91 L82.20,160.47 L82.52,162.01 L82.84,163.54 L83.16,165.08 L83.47,166.61 L83.79,168.13M85.71,177.18 L86.03,178.68 L86.34,180.16 L86.66,181.64 L86.98,183.12 L87.31,184.62 L87.65,186.18 L87.99,187.75 L88.33,189.31 L88.67,190.85 L89.01,192.40 L89.35,193.95 L89.48,194.56M91.45,203.39 L91.79,204.90 L92.13,206.40 L92.47,207.90 L92.81,209.38 L93.15,210.87 L93.49,212.35 L93.83,213.83 L94.17,215.30 L94.52,216.81 L94.89,218.37 L95.18,219.62M97.15,227.95 L97.51,229.48 L97.88,231.00 L98.24,232.51 L98.61,234.02 L98.97,235.52 L99.33,237.02 L99.70,238.51 L100.06,240.00 L100.43,241.48 L100.79,242.96 L100.86,243.25M102.85,251.21 L103.25,252.76 L103.64,254.31 L104.03,255.84 L104.42,257.38 L104.82,258.90 L105.21,260.42 L105.60,261.94 L105.99,263.44 L106.39,264.94 L106.62,265.85M108.51,272.95 L108.90,274.41 L109.29,275.87 L109.68,277.32 L110.11,278.88 L110.53,280.44 L110.96,281.99 L111.38,283.54 L111.81,285.08 L112.23,286.60 L112.32,286.91M114.27,293.85 L114.70,295.35 L115.12,296.83 L115.55,298.31 L115.97,299.78 L116.40,301.24 L116.82,302.71 L117.25,304.15 L117.67,305.60 L118.03,306.80M119.98,313.31 L120.44,314.84 L120.91,316.36 L121.37,317.87 L121.83,319.38 L122.30,320.88 L122.76,322.37 L123.22,323.85 L123.69,325.33M125.64,331.45 L126.10,332.89 L126.56,334.32 L127.03,335.74 L127.54,337.30 L128.05,338.85 L128.56,340.38 L129.07,341.92 L129.37,342.83M131.31,348.55 L131.82,350.03 L132.33,351.51 L132.84,352.97 L133.35,354.43 L133.86,355.88 L134.37,357.33 L134.88,358.76 L135.09,359.33M137.00,364.63 L137.57,366.18 L138.14,367.71 L138.70,369.24 L139.27,370.76 L139.84,372.26 L140.40,373.76 L140.86,374.95M144.60,384.54 L145.16,385.96 L145.73,387.36 L146.30,388.76 L146.92,390.29 L147.56,391.84 L148.20,393.38 L148.83,394.91 L149.47,396.43 L150.11,397.93 L150.75,399.43 L151.39,400.91 L152.02,402.38 L152.41,403.26M156.36,412.11 L157.00,413.50 L157.63,414.88 L158.27,416.25 L158.95,417.68 L159.68,419.22 L160.40,420.75 L161.13,422.26 L161.86,423.76 L162.59,425.25 L163.32,426.72 L164.05,428.18 L164.19,428.47M168.13,436.13 L168.86,437.51 L169.59,438.88 L170.31,440.23 L171.04,441.58 L171.77,442.91 L172.50,444.23 L173.28,445.63 L174.13,447.14 L174.98,448.64 L175.83,450.12 L176.00,450.41M180.08,457.30 L180.93,458.69 L181.78,460.07 L182.63,461.44 L183.48,462.79 L184.33,464.12 L185.18,465.45 L186.03,466.76 L186.88,468.05 L187.73,469.33M191.92,475.45 L192.94,476.90 L193.96,478.33 L194.98,479.74 L196.00,481.13 L197.02,482.51 L198.04,483.87 L199.06,485.21 L199.67,486.01" stroke="#00f" stroke-width="1.45"/>
<path d="M203.55,490.92 L204.57,492.18 L205.59,493.41 L206.61,494.64 L207.63,495.85 L208.65,497.04 L209.67,498.22 L210.69,499.38 L211.50,500.30M215.53,504.72 L216.81,506.07 L218.08,507.40 L219.36,508.71 L220.64,510.00 L221.91,511.28 L223.19,512.53M227.27,516.40 L228.54,517.57 L229.82,518.73 L231.09,519.86 L232.37,520.98 L233.64,522.08 L234.92,523.17M239.00,526.53 L240.28,527.54 L241.55,528.54 L242.83,529.53 L244.10,530.50 L245.38,531.45 L246.65,532.39 L246.91,532.58M250.73,535.30 L252.01,536.19 L253.28,537.05 L254.56,537.91 L255.83,538.75 L257.11,539.58 L258.38,540.40 L258.64,540.56M262.72,543.14 L264.42,544.17 L266.12,545.18 L267.82,546.18 L269.52,547.15 L270.54,547.72M274.62,549.95 L276.32,550.84 L278.02,551.72 L279.72,552.58 L281.43,553.42 L282.45,553.92M286.19,555.69 L287.89,556.46 L289.59,557.23 L291.29,557.98 L292.99,558.71 L294.01,559.14" stroke="#00f" stroke-width="1.8"/>
<path d="M298.09,560.82 L299.79,561.49 L301.49,562.16 L303.19,562.81 L304.89,563.44 L305.91,563.82M309.99,565.28 L311.69,565.87 L313.39,566.44 L315.09,567.01 L316.79,567.57 L317.81,567.89M321.56,569.06 L323.26,569.58 L324.96,570.08 L326.66,570.58 L328.36,571.07 L329.38,571.35M333.46,572.47 L335.16,572.93 L336.86,573.37 L338.56,573.80 L340.26,574.23 L341.28,574.48M345.36,575.46 L347.06,575.86 L348.76,576.25 L350.46,576.63 L352.16,577.01 L353.18,577.23M356.92,578.02 L358.62,578.38 L360.32,578.72 L362.03,579.06 L363.73,579.39 L364.75,579.59M368.83,580.35 L370.53,580.66 L372.23,580.97 L373.93,581.27 L375.63,581.56 L376.65,581.74M380.73,582.42 L382.43,582.69 L384.13,582.96 L385.83,583.23 L387.53,583.49 L388.55,583.65M392.63,584.25 L394.33,584.50 L396.03,584.74 L397.73,584.98 L399.43,585.21 L400.11,585.30M404.20,585.85 L405.90,586.07 L407.60,586.28 L409.30,586.50 L411.00,586.71 L412.02,586.83M416.10,587.32 L417.80,587.52 L419.50,587.71 L421.20,587.90 L422.90,588.09 L423.92,588.20M428.00,588.64 L429.70,588.82 L431.40,589.00 L433.10,589.17 L434.80,589.34 L435.82,589.44M439.56,589.81 L441.26,589.97 L442.97,590.13 L444.67,590.29 L446.37,590.44 L447.39,590.53M451.47,590.90 L453.17,591.04 L454.87,591.19 L456.57,591.33 L458.27,591.47 L459.29,591.56M463.37,591.89 L465.07,592.02 L466.77,592.16 L468.47,592.29 L470.17,592.42 L471.19,592.50M474.93,592.77 L476.63,592.90 L478.33,593.02 L480.03,593.14 L481.73,593.26 L482.76,593.33M486.84,593.61 L488.54,593.73 L490.24,593.84 L491.94,593.95 L493.64,594.06 L494.66,594.13M498.74,594.39 L500.44,594.49 L502.14,594.60 L503.84,594.70 L505.54,594.80 L506.56,594.86M510.64,595.10 L512.34,595.20 L514.04,595.30 L515.74,595.40 L517.44,595.49 L518.12,595.53M522.20,595.75 L523.91,595.84 L525.61,595.94 L527.31,596.03 L529.01,596.11 L530.03,596.17M534.11,596.38 L535.81,596.46 L537.51,596.55 L539.21,596.63 L540.91,596.71 L541.93,596.76M546.01,596.96 L547.71,597.04 L549.41,597.12 L551.11,597.20 L552.81,597.28 L553.83,597.32M557.57,597.49 L559.27,597.57 L560.97,597.64 L562.67,597.71 L564.38,597.79 L565.40,597.83M569.48,598.00 L571.18,598.07 L572.88,598.14 L574.58,598.21 L576.28,598.28 L577.30,598.32M581.38,598.48 L583.08,598.55 L584.78,598.61 L586.48,598.68 L588.18,598.74 L589.20,598.78M592.94,598.92 L594.64,598.98 L596.34,599.04 L598.04,599.10 L599.74,599.16 L600.76,599.20M604.85,599.34 L606.55,599.40 L608.25,599.45 L609.95,599.51 L611.65,599.57 L612.67,599.60M616.75,599.73 L618.45,599.78 L620.15,599.84 L621.85,599.89 L623.55,599.94 L624.57,599.97M628.65,600.09 L630.35,600.14 L632.05,600.20 L633.75,600.25 L635.45,600.30 L636.13,600.32M640.21,600.45 L641.91,600.51 L643.62,600.56 L645.32,600.62 L647.02,600.67 L648.04,600.70M652.12,600.83 L653.82,600.89 L655.52,600.94 L657.22,601.00 L658.92,601.05 L659.94,601.08M664.02,601.21 L665.72,601.27 L667.42,601.32 L669.12,601.38 L670.82,601.43 L671.84,601.46M675.58,601.58 L677.28,601.63 L678.98,601.69 L680.68,601.74 L682.38,601.79 L683.40,601.82M687.49,601.95 L689.19,602.00 L690.89,602.05 L692.59,602.10 L694.29,602.15 L695.31,602.19M699.39,602.31 L701.09,602.36 L702.79,602.41 L704.49,602.46 L706.19,602.51 L707.21,602.54M710.95,602.65 L712.65,602.70 L714.35,602.75 L716.05,602.80 L717.75,602.85 L718.77,602.88M722.85,603.00 L724.56,603.04 L726.26,603.09 L727.96,603.14 L729.66,603.19 L730.68,603.22M734.76,603.33 L736.46,603.38 L738.16,603.43 L739.86,603.48 L741.56,603.52 L742.58,603.55M746.32,603.66 L748.02,603.70 L749.72,603.75 L751.42,603.80 L753.12,603.84 L754.14,603.87M758.22,603.98 L759.92,604.03 L761.62,604.07 L763.32,604.12 L765.03,604.17 L766.05,604.19M770.13,604.30 L771.83,604.35 L773.53,604.40 L775.23,604.44 L776.93,604.49 L777.95,604.52M782.03,604.63 L783.73,604.67 L785.43,604.72 L787.13,604.76 L788.83,604.81 L789.51,604.83" stroke="#00f" stroke-width="2.3"/>
<path d="M80.04,150.86 L80.34,152.35 L80.64,153.83 L80.94,155.31 L81.24,156.82 L81.56,158.37 L81.88,159.93 L82.20,161.48 L82.52,163.02 L82.84,164.56 L83.16,166.10 L83.47,167.63 L83.79,169.16M85.71,178.22 L86.03,179.72 L86.34,181.21 L86.66,182.70 L86.98,184.18 L87.30,185.66 L87.62,187.13 L87.94,188.60 L88.26,190.07 L88.60,191.62 L88.94,193.17 L89.28,194.72 L89.48,195.65M91.45,204.51 L91.79,206.01 L92.13,207.52 L92.47,209.02 L92.81,210.52 L93.15,212.01 L93.49,213.50 L93.83,214.98 L94.17,216.45 L94.51,217.93 L94.85,219.39 L95.20,220.85M97.15,229.15 L97.51,230.69 L97.88,232.21 L98.24,233.73 L98.61,235.25 L98.97,236.75 L99.33,238.26 L99.70,239.76 L100.06,241.25 L100.43,242.74 L100.79,244.22 L100.86,244.51M102.85,252.51 L103.25,254.06 L103.64,255.62 L104.03,257.16 L104.42,258.70 L104.82,260.23 L105.21,261.75 L105.60,263.28 L105.99,264.79 L106.39,266.30 L106.62,267.20M108.51,274.34 L108.90,275.80 L109.29,277.27 L109.68,278.73 L110.11,280.30 L110.53,281.86 L110.96,283.42 L111.38,284.97 L111.81,286.52 L112.23,288.05 L112.32,288.36M114.27,295.33 L114.70,296.83 L115.12,298.32 L115.55,299.81 L115.97,301.28 L116.40,302.75 L116.82,304.22 L117.25,305.67 L117.67,307.13 L118.03,308.33M119.98,314.87 L120.44,316.41 L120.91,317.94 L121.37,319.45 L121.83,320.97 L122.30,322.47 L122.76,323.97 L123.22,325.46 L123.69,326.94M125.64,333.09 L126.10,334.53 L126.56,335.97 L127.03,337.40 L127.54,338.96 L128.05,340.52 L128.56,342.06 L129.07,343.60 L129.37,344.51M131.31,350.25 L131.82,351.74 L132.33,353.23 L132.84,354.70 L133.35,356.16 L133.86,357.62 L134.37,359.07 L134.88,360.51 L135.09,361.08M137.00,366.40 L137.57,367.95 L138.14,369.49 L138.70,371.02 L139.27,372.55 L139.84,374.06 L140.40,375.56 L140.86,376.75M144.60,386.37 L145.16,387.79 L145.73,389.21 L146.30,390.61 L146.92,392.14 L147.56,393.70 L148.20,395.24 L148.83,396.78 L149.47,398.30 L150.11,399.81 L150.75,401.31 L151.39,402.80 L152.02,404.27 L152.41,405.15M156.36,414.02 L157.00,415.41 L157.63,416.80 L158.27,418.17 L158.95,419.61 L159.68,421.15 L160.40,422.68 L161.13,424.19 L161.86,425.70 L162.59,427.19 L163.32,428.66 L164.05,430.13 L164.19,430.42M168.13,438.09 L168.86,439.47 L169.59,440.84 L170.31,442.20 L171.04,443.54 L171.77,444.88 L172.50,446.20 L173.28,447.60 L174.13,449.11 L174.98,450.61 L175.83,452.09 L176.00,452.39M180.08,459.28 L180.93,460.67 L181.78,462.05 L182.63,463.41 L183.48,464.76 L184.33,466.10 L185.18,467.43 L186.03,468.73 L186.88,470.03 L187.73,471.31M191.92,477.43 L192.94,478.87 L193.96,480.30 L194.98,481.71 L196.00,483.10 L197.02,484.47 L198.04,485.83 L199.06,487.17 L199.67,487.97" stroke="#00f" stroke-width="1.45"/>
<path d="M203.55,492.87 L204.57,494.12 L205.59,495.36 L206.61,496.58 L207.63,497.79 L208.65,498.98 L209.67,500.15 L210.69,501.32 L211.50,502.23M215.53,506.63 L216.81,507.98 L218.08,509.31 L219.36,510.61 L220.64,511.90 L221.91,513.17 L223.19,514.41M227.27,518.27 L228.54,519.44 L229.82,520.58 L231.09,521.72 L232.37,522.83 L233.64,523.92 L234.92,525.00M239.00,528.34 L240.28,529.35 L241.55,530.34 L242.83,531.32 L244.10,532.29 L245.38,533.24 L246.65,534.17 L246.91,534.35M250.73,537.06 L252.01,537.94 L253.28,538.80 L254.56,539.65 L255.83,540.48 L257.11,541.30 L258.38,542.11 L258.64,542.27M262.72,544.83 L264.42,545.85 L266.12,546.86 L267.82,547.84 L269.52,548.80 L270.54,549.37M274.62,551.57 L276.32,552.46 L278.02,553.32 L279.72,554.17 L281.43,555.00 L282.45,555.50M286.19,557.24 L287.89,558.01 L289.59,558.77 L291.29,559.50 L292.99,560.23 L294.01,560.65" stroke="#00f" stroke-width="1.8"/>
<path d="M298.09,562.31 L299.79,562.98 L301.49,563.63 L303.19,564.27 L304.89,564.90 L305.91,565.27M309.99,566.70 L311.69,567.28 L313.39,567.85 L315.09,568.41 L316.79,568.96 L317.81,569.28M321.56,570.43 L323.26,570.93 L324.96,571.43 L326.66,571.92 L328.36,572.40 L329.38,572.68M333.46,573.78 L335.16,574.22 L336.86,574.66 L338.56,575.08 L340.26,575.50 L341.28,575.75M345.36,576.71 L347.06,577.10 L348.76,577.48 L350.46,577.86 L352.16,578.23 L353.18,578.44M356.92,579.22 L358.62,579.56 L360.32,579.90 L362.03,580.23 L363.73,580.56 L364.75,580.75M368.83,581.50 L370.53,581.80 L372.23,582.10 L373.93,582.39 L375.63,582.68 L376.65,582.85M380.73,583.51 L382.43,583.78 L384.13,584.04 L385.83,584.30 L387.53,584.56 L388.55,584.71M392.63,585.30 L394.33,585.54 L396.03,585.77 L397.73,586.00 L399.43,586.23 L400.11,586.32M404.20,586.85 L405.90,587.06 L407.60,587.27 L409.30,587.48 L411.00,587.68 L412.02,587.80M416.10,588.27 L417.80,588.47 L419.50,588.65 L421.20,588.84 L422.90,589.02 L423.92,589.13M428.00,589.56 L429.70,589.73 L431.40,589.90 L433.10,590.07 L434.80,590.23 L435.82,590.33M439.56,590.68 L441.26,590.84 L442.97,590.99 L444.67,591.14 L446.37,591.29 L447.39,591.38M451.47,591.73 L453.17,591.87 L454.87,592.01 L456.57,592.15 L458.27,592.29 L459.29,592.37M463.37,592.69 L465.07,592.81 L466.77,592.94 L468.47,593.07 L470.17,593.19 L471.19,593.27M474.93,593.53 L476.63,593.65 L478.33,593.77 L480.03,593.89 L481.73,594.00 L482.76,594.07M486.84,594.33 L488.54,594.44 L490.24,594.55 L491.94,594.66 L493.64,594.76 L494.66,594.83M498.74,595.07 L500.44,595.17 L502.14,595.27 L503.84,595.37 L505.54,595.47 L506.56,595.53M510.64,595.75 L512.34,595.85 L514.04,595.94 L515.74,596.03 L517.44,596.12 L518.12,596.16M522.20,596.37 L523.91,596.45 L525.61,596.54 L527.31,596.62 L529.01,596.71 L530.03,596.76M534.11,596.95 L535.81,597.03 L537.51,597.11 L539.21,597.19 L540.91,597.27 L541.93,597.32M546.01,597.50 L547.71,597.58 L549.41,597.65 L551.11,597.72 L552.81,597.80 L553.83,597.84M557.57,598.00 L559.27,598.07 L560.97,598.14 L562.67,598.21 L564.38,598.27 L565.40,598.31M569.48,598.47 L571.18,598.54 L572.88,598.60 L574.58,598.67 L576.28,598.73 L577.30,598.77M581.38,598.92 L583.08,598.98 L584.78,599.04 L586.48,599.10 L588.18,599.16 L589.20,599.19M592.94,599.32 L594.64,599.38 L596.34,599.43 L598.04,599.49 L599.74,599.54 L600.76,599.58M604.85,599.70 L606.55,599.76 L608.25,599.81 L609.95,599.86 L611.65,599.91 L612.67,599.94M616.75,600.06 L618.45,600.11 L620.15,600.16 L621.85,600.21 L623.55,600.25 L624.57,600.28M628.65,600.39 L630.35,600.44 L632.05,600.48 L633.75,600.53 L635.45,600.58 L636.13,600.60M640.21,600.72 L641.91,600.77 L643.62,600.82 L645.32,600.87 L647.02,600.92 L648.04,600.95M652.12,601.07 L653.82,601.12 L655.52,601.17 L657.22,601.22 L658.92,601.27 L659.94,601.30M664.02,601.42 L665.72,601.47 L667.42,601.52 L669.12,601.57 L670.82,601.62 L671.84,601.65M675.58,601.76 L677.28,601.81 L678.98,601.86 L680.68,601.90 L682.38,601.95 L683.40,601.98M687.49,602.10 L689.19,602.15 L690.89,602.20 L692.59,602.25 L694.29,602.29 L695.31,602.32M699.39,602.44 L701.09,602.48 L702.79,602.53 L704.49,602.58 L706.19,602.63 L707.21,602.66M710.95,602.76 L712.65,602.81 L714.35,602.85 L716.05,602.90 L717.75,602.95 L718.77,602.97M722.85,603.08 L724.56,603.13 L726.26,603.18 L727.96,603.22 L729.66,603.27 L730.68,603.30M734.76,603.40 L736.46,603.45 L738.16,603.50 L739.86,603.54 L741.56,603.59 L742.58,603.61M746.32,603.71 L748.02,603.76 L749.72,603.80 L751.42,603.85 L753.12,603.89 L754.14,603.92M758.22,604.03 L759.92,604.07 L761.62,604.12 L763.32,604.16 L765.03,604.21 L766.05,604.23M770.13,604.34 L771.83,604.38 L773.53,604.43 L775.23,604.47 L776.93,604.52 L777.95,604.54M782.03,604.65 L783.73,604.70 L785.43,604.74 L787.13,604.79 L788.83,604.83 L789.51,604.85" stroke="#00f" stroke-width="2.3"/>
<path d="M80.04,154.68 L80.34,156.16 L80.64,157.64 L80.94,159.11 L81.24,160.62 L81.56,162.18 L81.88,163.74 L82.20,165.30 L82.52,166.85 L82.84,168.39 L83.16,169.94 L83.47,171.48 L83.79,173.01M85.71,182.14 L86.03,183.65 L86.34,185.16 L86.66,186.65 L86.98,188.15 L87.30,189.64 L87.62,191.13 L87.94,192.61 L88.26,194.09 L88.58,195.56 L88.89,197.04 L89.21,198.51 L89.48,199.73M91.45,208.70 L91.79,210.22 L92.13,211.75 L92.47,213.27 L92.81,214.78 L93.15,216.29 L93.49,217.80 L93.83,219.30 L94.17,220.79 L94.51,222.29 L94.85,223.77 L95.20,225.25M97.15,233.67 L97.51,235.22 L97.88,236.77 L98.24,238.31 L98.61,239.85 L98.97,241.38 L99.33,242.91 L99.70,244.42 L100.06,245.94 L100.43,247.45 L100.79,248.95 L100.86,249.25M102.83,257.28 L103.20,258.74 L103.56,260.21 L103.95,261.78 L104.35,263.34 L104.74,264.90 L105.13,266.45 L105.52,268.00 L105.92,269.53 L106.31,271.07 L106.62,272.29M108.51,279.54 L108.90,281.03 L109.29,282.51 L109.68,284.00 L110.08,285.47 L110.47,286.94 L110.86,288.40 L111.25,289.85 L111.64,291.31 L112.06,292.84 L112.32,293.78M114.27,300.87 L114.70,302.39 L115.12,303.90 L115.55,305.41 L115.97,306.91 L116.40,308.40 L116.82,309.89 L117.25,311.37 L117.67,312.84 L118.01,314.02M119.98,320.71 L120.44,322.27 L120.91,323.82 L121.37,325.36 L121.83,326.90 L122.30,328.43 L122.76,329.95 L123.22,331.46 L123.69,332.96M125.64,339.20 L126.10,340.67 L126.56,342.12 L127.03,343.57 L127.49,345.01 L127.95,346.45 L128.46,347.99 L128.97,349.55 L129.37,350.79M131.31,356.61 L131.82,358.12 L132.33,359.62 L132.84,361.12 L133.35,362.60 L133.86,364.08 L134.37,365.54 L134.88,367.00 L135.09,367.58M137.03,373.03 L137.57,374.54 L138.14,376.10 L138.70,377.65 L139.27,379.20 L139.84,380.72 L140.40,382.24 L140.86,383.45M144.60,393.18 L145.16,394.62 L145.73,396.04 L146.30,397.46 L146.87,398.87 L147.43,400.27 L148.07,401.83 L148.71,403.38 L149.34,404.92 L149.98,406.45 L150.62,407.96 L151.26,409.47 L151.90,410.96 L152.41,412.15M156.36,421.09 L157.00,422.49 L157.63,423.89 L158.27,425.26 L158.91,426.63 L159.55,428.00 L160.26,429.50 L160.99,431.02 L161.72,432.54 L162.44,434.04 L163.17,435.53 L163.90,437.00 L164.19,437.59M168.13,445.29 L168.86,446.68 L169.59,448.06 L170.31,449.42 L171.04,450.77 L171.77,452.11 L172.50,453.43 L173.28,454.83 L174.13,456.35 L174.98,457.85 L175.83,459.33 L176.00,459.63M180.08,466.52 L180.93,467.91 L181.78,469.29 L182.63,470.65 L183.48,472.00 L184.33,473.34 L185.18,474.66 L186.03,475.96 L186.88,477.25 L187.73,478.53M191.92,484.62 L192.94,486.06 L193.96,487.48 L194.98,488.88 L196.00,490.26 L197.02,491.63 L198.04,492.97 L199.06,494.30 L199.67,495.09" stroke="#00f" stroke-width="1.45"/>
<path d="M203.55,499.96 L204.57,501.20 L205.59,502.42 L206.61,503.63 L207.63,504.82 L208.65,506.00 L209.67,507.16 L210.69,508.30 L211.50,509.21M215.53,513.55 L216.81,514.88 L218.08,516.18 L219.36,517.47 L220.64,518.73 L221.91,519.98 L223.19,521.20M227.27,524.98 L228.54,526.13 L229.82,527.25 L231.09,528.36 L232.37,529.44 L233.64,530.51 L234.92,531.57M239.00,534.83 L240.28,535.81 L241.55,536.78 L242.83,537.73 L244.10,538.67 L245.38,539.59 L246.65,540.50 L246.91,540.68M250.73,543.30 L252.01,544.15 L253.28,544.98 L254.56,545.81 L255.83,546.61 L257.28,547.51 L258.64,548.35M262.72,550.80 L264.42,551.79 L266.12,552.76 L267.82,553.70 L269.52,554.62 L270.54,555.17M274.62,557.28 L276.32,558.12 L278.02,558.95 L279.72,559.76 L281.43,560.55 L282.45,561.02M286.19,562.68 L287.89,563.41 L289.59,564.13 L291.29,564.83 L292.99,565.52 L294.01,565.92" stroke="#00f" stroke-width="1.8"/>
<path d="M298.09,567.49 L299.79,568.12 L301.49,568.73 L303.19,569.34 L304.89,569.93 L305.91,570.27M309.99,571.63 L311.69,572.17 L313.39,572.70 L315.09,573.23 L316.79,573.74 L317.81,574.04M321.56,575.11 L323.26,575.59 L324.96,576.05 L326.66,576.50 L328.36,576.95 L329.38,577.21M333.46,578.23 L335.16,578.64 L336.86,579.04 L338.56,579.44 L340.26,579.83 L341.28,580.05M345.36,580.94 L347.06,581.30 L348.76,581.65 L350.46,581.99 L352.16,582.33 L353.18,582.53M356.92,583.24 L358.62,583.56 L360.32,583.86 L362.03,584.16 L363.73,584.46 L364.75,584.64M368.83,585.32 L370.53,585.59 L372.23,585.86 L373.93,586.13 L375.63,586.39 L376.65,586.54M380.73,587.14 L382.43,587.38 L384.13,587.62 L385.83,587.85 L387.53,588.08 L388.55,588.22M392.63,588.74 L394.33,588.96 L396.03,589.17 L397.73,589.37 L399.43,589.58 L400.11,589.66M404.20,590.12 L405.90,590.31 L407.60,590.50 L409.30,590.68 L411.00,590.86 L412.02,590.97M416.10,591.39 L417.80,591.55 L419.50,591.72 L421.20,591.88 L422.90,592.04 L423.92,592.14M428.00,592.51 L429.70,592.66 L431.40,592.81 L433.10,592.95 L434.80,593.10 L435.82,593.18M439.56,593.49 L441.26,593.62 L442.97,593.75 L444.67,593.88 L446.37,594.01 L447.39,594.09M451.47,594.39 L453.17,594.51 L454.87,594.63 L456.57,594.75 L458.27,594.86 L459.29,594.93M463.37,595.20 L465.07,595.31 L466.77,595.42 L468.47,595.53 L470.17,595.63 L471.19,595.69M474.93,595.92 L476.63,596.01 L478.33,596.11 L480.03,596.21 L481.73,596.30 L482.76,596.36M486.84,596.58 L488.54,596.67 L490.24,596.76 L491.94,596.85 L493.64,596.94 L494.66,596.99M498.74,597.19 L500.44,597.27 L502.14,597.35 L503.84,597.43 L505.54,597.51 L506.56,597.56M510.64,597.74 L512.34,597.82 L514.04,597.89 L515.74,597.96 L517.44,598.03 L518.12,598.06M522.20,598.23 L523.91,598.30 L525.61,598.37 L527.31,598.44 L529.01,598.50 L530.03,598.54M534.11,598.70 L535.81,598.76 L537.51,598.82 L539.21,598.88 L540.91,598.94 L541.93,598.98M546.01,599.12 L547.71,599.18 L549.41,599.23 L551.11,599.29 L552.81,599.35 L553.83,599.38M557.57,599.50 L559.27,599.55 L560.97,599.60 L562.67,599.66 L564.38,599.71 L565.40,599.74M569.48,599.86 L571.18,599.91 L572.88,599.95 L574.58,600.00 L576.28,600.05 L577.30,600.08M581.38,600.19 L583.08,600.23 L584.78,600.27 L586.48,600.32 L588.18,600.36 L589.20,600.39M592.94,600.48 L594.64,600.52 L596.34,600.56 L598.04,600.60 L599.74,600.64 L600.76,600.66M604.85,600.75 L606.55,600.79 L608.25,600.83 L609.95,600.86 L611.65,600.90 L612.67,600.92M616.75,601.00 L618.45,601.04 L620.15,601.07 L621.85,601.10 L623.55,601.14 L624.57,601.15M628.65,601.23 L630.35,601.26 L632.05,601.30 L633.75,601.33 L635.45,601.36 L636.13,601.38M640.21,601.46 L641.91,601.50 L643.62,601.54 L645.32,601.57 L647.02,601.61 L648.04,601.63M652.12,601.72 L653.82,601.76 L655.52,601.80 L657.22,601.83 L658.92,601.87 L659.94,601.89M664.02,601.99 L665.72,602.02 L667.42,602.06 L669.12,602.10 L670.82,602.14 L671.84,602.16M675.58,602.24 L677.28,602.28 L678.98,602.32 L680.68,602.36 L682.38,602.40 L683.40,602.42M687.49,602.51 L689.19,602.55 L690.89,602.59 L692.59,602.63 L694.29,602.67 L695.31,602.69M699.39,602.78 L701.09,602.82 L702.79,602.86 L704.49,602.90 L706.19,602.94 L707.21,602.96M710.95,603.05 L712.65,603.08 L714.35,603.12 L716.05,603.16 L717.75,603.20 L718.77,603.22M722.85,603.32 L724.56,603.36 L726.26,603.40 L727.96,603.43 L729.66,603.47 L730.68,603.50M734.76,603.59 L736.46,603.63 L738.16,603.67 L739.86,603.71 L741.56,603.75 L742.58,603.77M746.32,603.86 L748.02,603.90 L749.72,603.94 L751.42,603.98 L753.12,604.02 L754.14,604.05M758.22,604.14 L759.92,604.18 L761.62,604.22 L763.32,604.26 L765.03,604.30 L766.05,604.33M770.13,604.43 L771.83,604.47 L773.53,604.51 L775.23,604.55 L776.93,604.59 L777.95,604.62M782.03,604.72 L783.73,604.76 L785.43,604.80 L787.13,604.84 L788.83,604.89 L789.51,604.90" stroke="#00f" stroke-width="2.3"/>
</g>
<text font-size="25" x="444" y="674.8" text-anchor="middle">ξ</text>
<text font-size="26" transform="translate(18.5,394.5) rotate(-90)" textLength="45" lengthAdjust="spacingAndGlyphs">F'(<tspan dy="3">ξ</tspan><tspan dy="-3">)</tspan></text>
<line x1="196.2" y1="559.8" x2="229" y2="483.5" stroke="#000" stroke-width="1.15"/>
<polygon points="236.7,466.2 218.5,485.8 229,483 236.4,494.1" fill="#000"/>
<line x1="228.3" y1="529" x2="571.9" y2="429.2" stroke="#000" stroke-width="1.15"/>
<rect x="580.4" y="382.8" width="219.8" height="168.8" fill="#fff"/>
<path d="M600.8,551.6 v-3.5 M600.8,382.8 v3.5 M669.3,551.6 v-3.5 M669.3,382.8 v3.5 M737.8,551.6 v-3.5 M737.8,382.8 v3.5 M800.2,408.8 h-4 M800.2,453.9 h-4" stroke="#000" stroke-width="1.6" fill="none"/>
<g clip-path="url(#ci)" fill="none" stroke-linecap="butt">
<line x1="580.4" y1="462.9" x2="800.2" y2="496.4" stroke="#f0f" stroke-width="5.2"/>
<line x1="580.4" y1="473.0" x2="800.2" y2="506.6" stroke="#f0f" stroke-width="5.2"/>
<line x1="580.4" y1="507.8" x2="800.2" y2="540.0" stroke="#f0f" stroke-width="5.2"/>
<line x1="580.4" y1="391.86" x2="800.2" y2="432.84" stroke="#00f" stroke-width="5" stroke-dasharray="18.62 10.38" stroke-dashoffset="20.04"/>
<line x1="580.4" y1="404.86" x2="800.2" y2="445.34" stroke="#00f" stroke-width="5" stroke-dasharray="18.61 10.37" stroke-dashoffset="20.03"/>
<line x1="580.4" y1="450.67" x2="800.2" y2="487.95" stroke="#00f" stroke-width="5" stroke-dasharray="18.56 10.35" stroke-dashoffset="19.98"/>
</g>
<g stroke="#000" stroke-width="2" fill="none">
<rect x="580.4" y="382.8" width="219.8" height="168.8"/>
</g>
<text x="254.70" y="18.6" font-size="25" stroke="#fff" stroke-width="0.35" xml:space="preserve">S</text>
<text x="271.40" y="29.4" font-size="21" stroke="#fff" stroke-width="0.35" xml:space="preserve">t</text>
<text x="284.20" y="18.6" font-size="25" textLength="66.45" stroke="#fff" stroke-width="0.35" xml:space="preserve">= 0.2,</text>
<text x="366.70" y="18.6" font-size="25" stroke="#fff" stroke-width="0.35" xml:space="preserve">χ</text>
<text x="386.00" y="18.6" font-size="25" textLength="79.56" stroke="#fff" stroke-width="0.35" xml:space="preserve">= 0.05,</text>
<text x="471.50" y="18.6" font-size="25" stroke="#fff" stroke-width="0.35" xml:space="preserve">A</text>
<text x="486.30" y="29.4" font-size="21" stroke="#fff" stroke-width="0.35" xml:space="preserve">1</text>
<text x="506.20" y="18.6" font-size="25" textLength="45.61" stroke="#fff" stroke-width="0.35" xml:space="preserve">= 1,</text>
<text x="557.70" y="18.6" font-size="25" stroke="#fff" stroke-width="0.35" xml:space="preserve">B</text>
<text x="574.50" y="29.4" font-size="21" stroke="#fff" stroke-width="0.35" xml:space="preserve">2</text>
<text x="593.60" y="18.6" font-size="25" textLength="45.21" stroke="#fff" stroke-width="0.35" xml:space="preserve">= 1,</text>
<text x="259.70" y="56.1" font-size="25" textLength="93.22" stroke="#fff" stroke-width="0.35" xml:space="preserve">M = 0.5,</text>
<text x="359.70" y="56.1" font-size="25" textLength="75.34" stroke="#fff" stroke-width="0.35" xml:space="preserve">Pr = 6,</text>
<text x="444.10" y="56.1" font-size="25" textLength="77.75" stroke="#fff" stroke-width="0.35" xml:space="preserve">λ= 0.5,</text>
<text x="526.80" y="56.1" font-size="25" stroke="#fff" stroke-width="0.35" xml:space="preserve">E</text>
<text x="545.10" y="66.6" font-size="21" stroke="#fff" stroke-width="0.35" xml:space="preserve">c</text>
<text x="563.00" y="56.1" font-size="25" textLength="65.85" stroke="#fff" stroke-width="0.35" xml:space="preserve">= 0.3,</text>
<text x="354.40" y="93.4" font-size="25" stroke="#fff" stroke-width="0.35" xml:space="preserve">R</text>
<text x="370.70" y="104.4" font-size="21" stroke="#fff" stroke-width="0.35" xml:space="preserve">i</text>
<text x="382.40" y="93.4" font-size="25" textLength="65.85" stroke="#fff" stroke-width="0.35" xml:space="preserve">= 0.3,</text>
<text x="455.70" y="93.4" font-size="25" stroke="#fff" stroke-width="0.35" xml:space="preserve">β</text>
<text x="468.20" y="104.4" font-size="21" stroke="#fff" stroke-width="0.35" xml:space="preserve">i</text>
<text x="471.30" y="93.4" font-size="25" textLength="64.65" stroke="#fff" stroke-width="0.35" xml:space="preserve">= 0.3.</text>
<line x1="572.3" y1="181.3" x2="611.4" y2="181.3" stroke="#f0f" stroke-width="2"/>
<text x="619.10" y="176.7" font-size="25" fill="#f0f" textLength="102.83" stroke="#fff" stroke-width="0.35" xml:space="preserve">Cu-Water</text>
<text x="566.30" y="240.4" font-size="25" fill="#00f" textLength="38.68" stroke="#fff" stroke-width="0.35" xml:space="preserve">- - -</text>
<text x="613.10" y="240.4" font-size="25" fill="#00f" textLength="21.03" stroke="#fff" stroke-width="0.35" xml:space="preserve">Al</text>
<text x="634.40" y="251.4" font-size="21" fill="#00f" stroke="#fff" stroke-width="0.35" xml:space="preserve">2</text>
<text x="646.10" y="240.4" font-size="25" fill="#00f" stroke="#fff" stroke-width="0.35" xml:space="preserve">O</text>
<text x="663.40" y="251.4" font-size="21" fill="#00f" stroke="#fff" stroke-width="0.35" xml:space="preserve">3</text>
<text x="674.00" y="240.4" font-size="25" fill="#00f" textLength="73.88" stroke="#fff" stroke-width="0.35" xml:space="preserve">-Water</text>
<text x="114.40" y="583.2" font-size="25" stroke="#fff" stroke-width="0.35" xml:space="preserve">β</text>
<text x="128.10" y="595.0" font-size="21" stroke="#fff" stroke-width="0.35" xml:space="preserve">H</text>
<text x="149.40" y="583.2" font-size="25" textLength="133.55" stroke="#fff" stroke-width="0.35" xml:space="preserve">= 0, 0.3, 0.5</text>
<text x="537.70" y="418.9" font-size="24" font-weight="bold" textLength="31.97" stroke="#000" stroke-width="0.35" xml:space="preserve">0.1</text>
<text x="524.70" y="464.3" font-size="24" font-weight="bold" textLength="45.67" stroke="#000" stroke-width="0.35" xml:space="preserve">0.09</text>
<text x="524.70" y="508.9" font-size="24" font-weight="bold" textLength="45.67" stroke="#000" stroke-width="0.35" xml:space="preserve">0.08</text>
<text x="524.70" y="552.6" font-size="24" font-weight="bold" textLength="45.67" stroke="#000" stroke-width="0.35" xml:space="preserve">0.07</text>
<text x="578.10" y="582.0" font-size="24" font-weight="bold" textLength="45.67" stroke="#000" stroke-width="0.35" xml:space="preserve">1.38</text>
<text x="653.60" y="582.0" font-size="24" font-weight="bold" textLength="30.97" stroke="#000" stroke-width="0.35" xml:space="preserve">1.4</text>
<text x="715.30" y="582.0" font-size="24" font-weight="bold" textLength="45.67" stroke="#000" stroke-width="0.35" xml:space="preserve">1.42</text>
<text x="57.50" y="613.2" font-size="25" stroke="#fff" stroke-width="0.35" xml:space="preserve">0</text>
<text x="36.40" y="553.2" font-size="25" textLength="35.07" stroke="#fff" stroke-width="0.35" xml:space="preserve">0.1</text>
<text x="36.40" y="493.3" font-size="25" textLength="35.07" stroke="#fff" stroke-width="0.35" xml:space="preserve">0.2</text>
<text x="36.40" y="433.4" font-size="25" textLength="35.07" stroke="#fff" stroke-width="0.35" xml:space="preserve">0.3</text>
<text x="36.40" y="373.4" font-size="25" textLength="34.07" stroke="#fff" stroke-width="0.35" xml:space="preserve">0.4</text>
<text x="36.40" y="313.5" font-size="25" textLength="34.07" stroke="#fff" stroke-width="0.35" xml:space="preserve">0.5</text>
<text x="36.40" y="253.5" font-size="25" textLength="35.07" stroke="#fff" stroke-width="0.35" xml:space="preserve">0.6</text>
<text x="36.40" y="193.5" font-size="25" textLength="35.07" stroke="#fff" stroke-width="0.35" xml:space="preserve">0.7</text>
<text x="36.40" y="133.6" font-size="25" textLength="34.07" stroke="#fff" stroke-width="0.35" xml:space="preserve">0.8</text>
<text x="112.70" y="640.4" font-size="25" stroke="#fff" stroke-width="0.35" xml:space="preserve">0.5</text>
<text x="195.94" y="640.4" font-size="25" stroke="#fff" stroke-width="0.35" xml:space="preserve">1</text>
<text x="258.79" y="640.4" font-size="25" stroke="#fff" stroke-width="0.35" xml:space="preserve">1.5</text>
<text x="343.23" y="640.4" font-size="25" stroke="#fff" stroke-width="0.35" xml:space="preserve">2</text>
<text x="405.58" y="640.4" font-size="25" stroke="#fff" stroke-width="0.35" xml:space="preserve">2.5</text>
<text x="489.62" y="640.4" font-size="25" stroke="#fff" stroke-width="0.35" xml:space="preserve">3</text>
<text x="553.07" y="640.4" font-size="25" stroke="#fff" stroke-width="0.35" xml:space="preserve">3.5</text>
<text x="636.31" y="640.4" font-size="25" stroke="#fff" stroke-width="0.35" xml:space="preserve">4</text>
<text x="698.36" y="640.4" font-size="25" stroke="#fff" stroke-width="0.35" xml:space="preserve">4.5</text>
<text x="781.00" y="640.4" font-size="25" stroke="#fff" stroke-width="0.35" xml:space="preserve">5</text>
</svg>
</body></html>
